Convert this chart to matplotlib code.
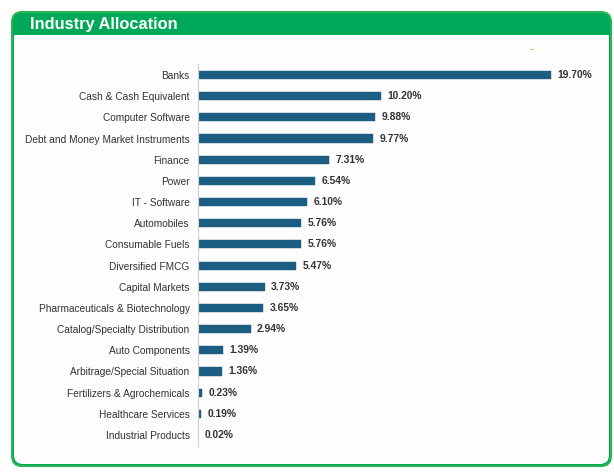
import matplotlib.pyplot as plt
from matplotlib.patches import FancyBboxPatch, Rectangle

categories = ["Banks", "Cash & Cash Equivalent", "Computer Software",
              "Debt and Money Market Instruments", "Finance", "Power",
              "IT - Software", "Automobiles", "Consumable Fuels",
              "Diversified FMCG", "Capital Markets",
              "Pharmaceuticals & Biotechnology", "Catalog/Specialty Distribution",
              "Auto Components", "Arbitrage/Special Situation",
              "Fertilizers & Agrochemicals", "Healthcare Services",
              "Industrial Products"]
values = [19.70, 10.20, 9.88, 9.77, 7.31, 6.54, 6.10, 5.76, 5.76, 5.47,
          3.73, 3.65, 2.94, 1.39, 1.36, 0.23, 0.19, 0.02]

W, H = 614, 474
fig = plt.figure(figsize=(W / 100, H / 100), dpi=100)

# background frame drawn in pixel coords
bg = fig.add_axes([0, 0, 1, 1])
bg.set_xlim(0, W)
bg.set_ylim(H, 0)
bg.axis("off")
green = "#00a859"
bg.add_patch(FancyBboxPatch((12, 12), 599, 454, boxstyle="round,pad=0,rounding_size=10",
                            facecolor=green, edgecolor="#2cb556", linewidth=1.5))
bg.add_patch(FancyBboxPatch((14, 35), 595, 429, boxstyle="round,pad=0,rounding_size=9",
                            facecolor="#fdfdfd", edgecolor="none"))
bg.add_patch(Rectangle((14, 35), 595, 20, facecolor="#fdfdfd", edgecolor="none"))
bg.text(30, 24.5, "Industry Allocation", color="white", fontsize=11.8,
        fontweight="bold", va="center", ha="left", family="Liberation Sans")
bg.text(532, 50, "–", color="#c9a227", fontsize=6, va="center", ha="center")

# bar chart
px_per_pct = 17.92
left, right = 198, 598
top, bottom = 64.4, 445.6
ax = fig.add_axes([left / W, (H - bottom) / H, (right - left) / W, (bottom - top) / H])
ax.set_facecolor("none")
y = list(range(len(categories)))
ax.barh(y, values, height=0.38, color="#1b5e82", edgecolor="#1b5e82", linewidth=0.3)
ax.set_ylim(len(categories) - 0.5, -0.5)
ax.set_xlim(0, (right - left) / px_per_pct)
ax.set_yticks(y)
ax.set_yticklabels(categories, fontsize=7.3, color="#333333", family="Liberation Sans")
ax.tick_params(axis="y", length=0, pad=6)
ax.set_xticks([])
for s in ["top", "right", "bottom"]:
    ax.spines[s].set_visible(False)
ax.spines["left"].set_color("#d0d0d0")
ax.spines["left"].set_linewidth(0.8)

for yi, v in zip(y, values):
    ax.text(v + 0.35, yi, f"{v:.2f}%", va="center", ha="left", fontsize=7.4,
            fontweight="bold", color="#333333", family="Liberation Sans")

fig.savefig("out.png", dpi=100)
